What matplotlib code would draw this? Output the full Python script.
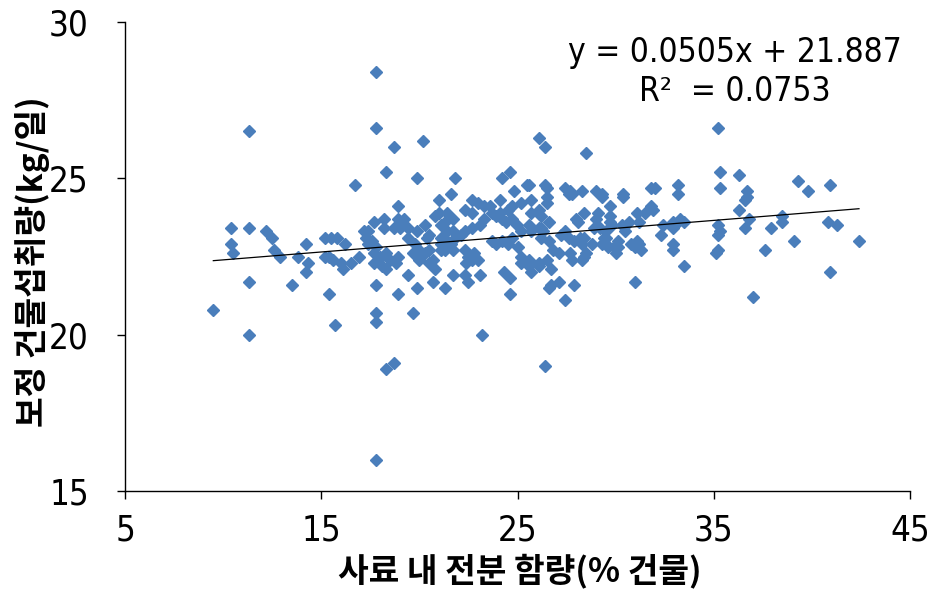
import numpy as np
import matplotlib.pyplot as plt

# 사료 내 전분 함량(% 건물)
x = [9.5, 10.4, 10.4, 10.5, 11.3, 11.3, 11.3, 11.3, 12.2, 12.5, 12.6, 12.9, 13.5, 13.8, 14.2, 14.3, 14.2,
     15.2, 15.5, 15.8, 16.2, 15.2, 15.4, 15.6, 16.0, 16.1, 16.5, 16.9, 15.4, 15.7, 16.7,
     17.3, 17.4, 17.4, 17.8, 17.8, 18.7, 18.3, 17.7, 18.2, 18.2, 18.7, 17.2, 17.6, 17.8, 17.7, 17.9,
     17.7, 18.1, 18.3, 18.0, 18.3, 18.5, 18.8, 18.9, 17.8, 18.9, 17.8, 17.8, 18.3, 18.7, 17.8, 18.9,
     19.0, 18.9, 19.2, 19.4, 19.9, 20.2, 19.9, 20.5, 20.4, 19.4, 19.8, 20.0, 19.7, 20.0, 20.3, 20.5,
     20.5, 20.7, 20.8, 20.7, 19.9, 19.4, 19.7, 20.3, 20.8, 21.0, 21.0,
     21.8, 21.6, 21.4, 21.7, 21.1, 21.3, 21.4, 21.1, 21.7, 21.8, 22.1, 21.1, 21.1, 21.4, 21.3, 21.6,
     21.7, 21.3, 21.7, 22.3, 22.7, 22.7, 22.3, 22.7, 22.3, 22.5, 22.4, 22.7, 22.8, 22.3, 22.5,
     23.0, 23.3, 23.6, 23.1, 23.3, 23.7, 23.9, 23.7, 23.9, 23.0, 23.1, 23.2, 24.1, 24.1, 24.2, 24.6,
     24.8, 24.5, 24.7, 24.2, 24.4, 24.7, 24.2, 24.5, 24.7, 24.3, 24.6, 24.6, 24.95,
     25.0, 25.2, 25.2, 25.2, 25.2, 25.5, 25.6, 25.7, 25.7, 25.6, 25.7, 25.6, 25.6, 25.7, 26.1, 26.4,
     26.4, 26.5, 26.5, 26.5, 26.1, 26.2, 26.1, 26.2, 26.3, 26.2, 26.6, 26.6, 26.8, 26.5, 26.1, 26.1,
     26.7, 26.6, 26.7, 27.1, 26.4, 27.1,
     27.4, 27.7, 27.8, 28.3, 27.6, 28.5, 28.4, 28.0, 28.1, 27.2, 27.4, 27.6, 27.7, 27.8, 28.4, 28.3,
     28.5, 27.9, 28.3, 28.2, 28.4, 28.8, 28.9, 27.9, 27.4,
     29.0, 29.3, 29.3, 29.1, 29.0, 29.7, 29.7, 29.7, 29.8, 29.2, 29.5, 29.3, 29.5, 29.6, 29.9, 30.0,
     30.1, 30.1, 29.5, 29.4, 30.3, 30.4, 30.4, 30.7, 30.5, 30.8, 31.0, 31.1, 31.0,
     31.1, 31.2, 31.2, 31.3, 31.5, 31.8, 31.9, 31.8, 32.0, 32.4, 32.3, 32.9, 33.3, 33.5, 32.9, 33.0,
     32.9, 32.9, 33.5, 33.2, 33.2,
     35.2, 35.3, 36.3, 35.3, 36.7, 36.7, 39.3, 39.8, 40.9, 36.6, 36.3, 36.8, 35.2, 35.2, 35.3, 35.1,
     35.2, 36.6, 37.6, 37.9, 38.5, 38.5, 39.1, 40.8, 41.3, 42.4, 40.9, 37.0]

# 보정 건물섭취량(kg/일)
y = [20.8, 23.4, 22.9, 22.6, 26.5, 23.4, 21.7, 20.0, 23.3, 23.1, 22.7, 22.5, 21.6, 22.5, 22.9, 22.3, 22.0,
     23.1, 23.1, 23.1, 22.9, 22.5, 22.5, 22.4, 22.3, 22.1, 22.3, 22.5, 21.3, 20.3, 24.8,
     23.1, 23.3, 22.9, 28.4, 26.6, 26.0, 25.2, 23.6, 23.7, 23.4, 23.4, 23.3, 23.0, 22.8, 22.6, 22.4,
     22.3, 22.2, 22.1, 22.5, 22.6, 22.4, 22.3, 22.5, 21.6, 21.3, 20.7, 20.4, 18.9, 19.1, 16.0, 24.1,
     23.4, 23.7, 23.7, 23.4, 25.0, 26.2, 23.3, 23.2, 23.1, 23.1, 22.9, 22.7, 22.6, 22.4, 22.6, 22.7,
     22.3, 22.4, 22.1, 21.7, 21.5, 21.9, 20.7, 23.5, 23.8, 24.3, 23.9,
     25.0, 24.5, 23.9, 23.7, 23.5, 23.6, 23.3, 23.1, 23.3, 23.1, 23.2, 22.7, 22.9, 23.0, 22.7, 22.9,
     22.7, 21.5, 21.9, 24.0, 24.3, 23.9, 23.3, 23.4, 22.7, 22.5, 22.3, 22.4, 22.6, 21.9, 21.7,
     24.2, 24.1, 24.1, 23.5, 23.7, 23.9, 23.8, 23.0, 22.9, 22.4, 21.9, 20.0, 24.3, 23.9, 25.0, 25.2,
     24.6, 24.0, 24.1, 23.7, 23.6, 23.7, 23.0, 22.9, 23.1, 22.0, 21.8, 21.3, 23.5,
     22.8, 22.5, 22.3, 24.2, 23.3, 24.8, 24.8, 24.3, 23.9, 23.5, 23.3, 22.4, 22.2, 22.0, 26.3, 26.0,
     24.8, 24.7, 24.4, 24.2, 24.0, 23.8, 23.4, 23.4, 23.3, 23.1, 23.6, 23.0, 22.7, 22.4, 22.3, 22.2,
     22.1, 21.5, 21.6, 21.7, 19.0, 22.6,
     24.7, 24.6, 24.5, 24.6, 24.5, 25.8, 23.9, 23.7, 23.6, 23.2, 23.3, 23.1, 22.6, 22.4, 22.5, 22.4,
     22.6, 23.0, 22.9, 23.1, 23.1, 22.9, 23.4, 21.6, 21.1,
     24.6, 24.5, 24.4, 23.9, 23.7, 24.1, 23.8, 23.6, 23.5, 23.4, 23.3, 22.9, 22.9, 22.8, 22.8, 22.6,
     22.8, 23.0, 23.1, 23.1, 23.5, 24.4, 24.5, 23.6, 23.3, 22.9, 22.8, 23.0, 21.7,
     23.9, 23.6, 22.9, 22.7, 23.9, 24.1, 24.0, 24.7, 24.7, 23.5, 23.2, 23.6, 23.7, 23.6, 23.4, 23.5,
     22.9, 22.7, 22.2, 24.8, 24.5,
     26.6, 25.2, 25.1, 24.7, 24.6, 24.4, 24.9, 24.6, 24.8, 24.3, 24.0, 23.7, 23.5, 23.2, 23.3, 22.6,
     22.7, 23.4, 22.7, 23.4, 23.8, 23.6, 23.0, 23.6, 23.5, 23.0, 22.0, 21.2]

# 추세선 (그림에 표시된 식)
slope, intercept = 0.0505, 21.887
r2 = 0.0753

x_ticks = [5, 15, 25, 35, 45]
y_ticks = [15, 20, 25, 30]

num_font = ['DejaVu Sans']
kr_font = ['Noto Sans CJK KR', 'DejaVu Sans']

fig = plt.figure(figsize=(9.44, 6.05), dpi=100)
ax = fig.add_axes([125 / 944, 1 - 491 / 605, 785 / 944, 469 / 605])

ax.plot(x, y, linestyle='none', marker='D', ms=5.8, color='#4a7ebb', mec='#4a7ebb')

xl = np.array([min(x), max(x)])
ax.plot(xl, slope * xl + intercept, color='black', lw=0.9)

ax.set_xlim(5, 45)
ax.set_ylim(15, 30)
ax.set_xticks(x_ticks)
ax.set_yticks(y_ticks)
ax.set_xticklabels([str(t) for t in x_ticks], family=num_font, fontsize=25, stretch='condensed')
ax.set_yticklabels([str(t) for t in y_ticks], family=num_font, fontsize=25, stretch='condensed')
ax.tick_params(direction='out', length=6, width=1, colors='black')
ax.tick_params(axis='x', pad=10)
ax.tick_params(axis='y', pad=20)

for s in ['top', 'right']:
    ax.spines[s].set_visible(False)
for s in ['left', 'bottom']:
    ax.spines[s].set_color('black')
    ax.spines[s].set_linewidth(1)

ax.set_xlabel('사료 내 전분 함량(% 건물)', family=kr_font, fontsize=24, fontweight='bold')
ax.set_ylabel('보정 건물섭취량(kg/일)', family=kr_font, fontsize=24, fontweight='bold')
ax.xaxis.set_label_coords(0.503, -0.132)
ax.yaxis.set_label_coords(-0.096, 0.49)

ax.text(735 / 944, 1 - 62 / 605, f'y = {slope}x + {intercept}', transform=fig.transFigure,
        ha='center', va='baseline', family=num_font, fontsize=24, stretch='condensed')
ax.text(735 / 944, 1 - 101 / 605, f'R²  = {r2}', transform=fig.transFigure,
        ha='center', va='baseline', family=num_font, fontsize=24, stretch='condensed')

fig.savefig('out.png', dpi=100)
